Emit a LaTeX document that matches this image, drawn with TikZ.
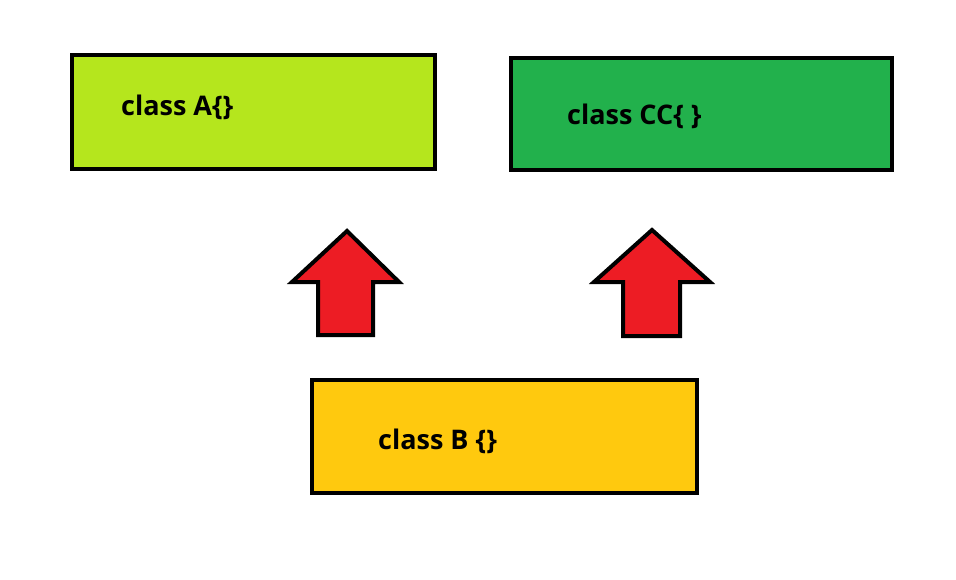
\documentclass[tikz,border=0pt]{standalone}
\usepackage{fontspec}
\setmainfont{Open Sans}
\begin{document}
\begin{tikzpicture}[x=1pt,y=-1pt,
  classbox/.style={draw=black,line width=4pt,inner sep=0pt,anchor=north west},
  lbl/.style={anchor=base west,inner sep=0pt,font=\fontsize{27}{30}\selectfont\bfseries},
  bigarrow/.style={draw=black,fill=arrowred,line width=4pt,line join=miter}]
\definecolor{limeA}{HTML}{B5E61D}
\definecolor{greenC}{HTML}{22B14C}
\definecolor{yellowB}{HTML}{FFC90E}
\definecolor{arrowred}{HTML}{ED1C24}
\useasboundingbox[fill=white] (0,0) rectangle (956,579);
\node[classbox,fill=limeA,minimum width=363pt,minimum height=114pt] (A) at (70,53) {};
\node[classbox,fill=greenC,minimum width=381pt,minimum height=112pt] (C) at (509,56) {};
\node[classbox,fill=yellowB,minimum width=385pt,minimum height=113pt] (B) at (310,378) {};
\node[lbl] (tA) at (121,115) {class A\{\}};
\node[lbl] (tC) at (567,124) {class CC\{ \}};
\node[lbl] (tB) at (378,449) {class B \{\}};
\draw[bigarrow] (347,231) -- (399,282) -- (373,282) -- (373,335) -- (318,335) -- (318,282) -- (292,282) -- cycle;
\draw[bigarrow] (652,230) -- (710,282) -- (680,282) -- (680,336) -- (623,336) -- (623,282) -- (594,282) -- cycle;
\end{tikzpicture}
\end{document}
